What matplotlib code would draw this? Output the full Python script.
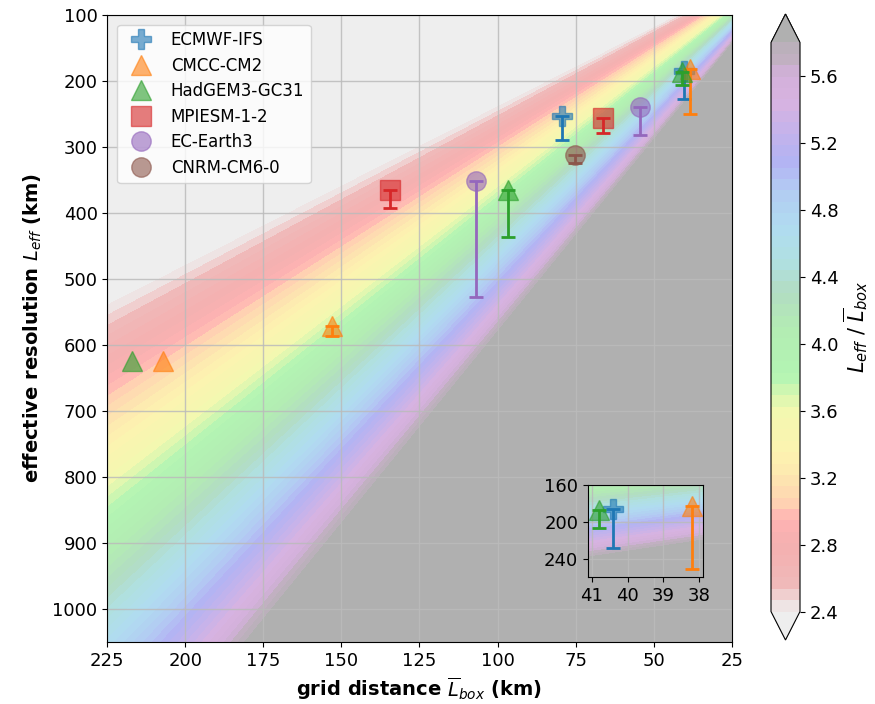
import numpy as np
import matplotlib
matplotlib.use("Agg")
import matplotlib.pyplot as plt
from matplotlib.colors import LinearSegmentedColormap

# grid distance (km) / effective resolution (km) / spread of the estimate (km)
ecmwf_lbox = [79.5, 40.4]
ecmwf_leff = [253, 186]
ecmwf_err = [37, 42]

cmcc_lbox = [207.3, 153.1, 38.2]
cmcc_leff = [625, 572, 183]
cmcc_err = [0, 15, 68]

hadgem_lbox = [217.2, 96.5, 40.8]
hadgem_leff = [625, 365, 187]
hadgem_err = [0, 71, 20]

mpi_lbox = [134.4, 66.2]
mpi_leff = [366, 257]
mpi_err = [27, 22]

ecearth_lbox = [107.0, 54.4]
ecearth_leff = [352, 240]
ecearth_err = [175, 42]

cnrm_lbox = [75.2]
cnrm_leff = [312]
cnrm_err = [12]

cbar_ticks = [2.4, 2.8, 3.2, 3.6, 4.0, 4.4, 4.8, 5.2, 5.6]

models = [
    ("ECMWF-IFS", "P", 14, "tab:blue", ecmwf_lbox, ecmwf_leff, ecmwf_err),
    ("CMCC-CM2", "^", 14, "tab:orange", cmcc_lbox, cmcc_leff, cmcc_err),
    ("HadGEM3-GC31", "^", 14, "tab:green", hadgem_lbox, hadgem_leff, hadgem_err),
    ("MPIESM-1-2", "s", 15, "tab:red", mpi_lbox, mpi_leff, mpi_err),
    ("EC-Earth3", "o", 14, "tab:purple", ecearth_lbox, ecearth_leff, ecearth_err),
    ("CNRM-CM6-0", "o", 14, "tab:brown", cnrm_lbox, cnrm_leff, cnrm_err),
]

# ratio colours (pale rainbow)
anchors = [
    (2.40, "#ececec"), (2.47, "#f0d8d8"), (2.55, "#f0b9b9"), (2.80, "#f4b0b0"),
    (2.95, "#ffb3b3"), (3.05, "#ffd4b2"), (3.20, "#fde6b0"), (3.35, "#fdf3b0"),
    (3.60, "#f2f8b0"), (3.70, "#d4f6b0"), (3.80, "#b3f5b3"), (4.10, "#b3ecb3"),
    (4.30, "#b2dcc2"), (4.50, "#b0e0e2"), (4.70, "#b0dcf0"), (4.95, "#b3c8f3"),
    (5.10, "#b3b3f3"), (5.30, "#c8b3ea"), (5.45, "#d8b3e0"), (5.62, "#d2b0da"),
    (5.70, "#c2b0c2"), (5.80, "#b8b0b8"),
]
lo, hi = anchors[0][0], anchors[-1][0]
cmap = LinearSegmentedColormap.from_list(
    "ratio", [((v - lo) / (hi - lo), c) for v, c in anchors])
cmap.set_under("#eeeeee")
cmap.set_over("#b0b0b0")
levels = np.linspace(2.4, 5.8, 51)


def draw_background(axis, xr, yr):
    xx, yy = np.meshgrid(np.linspace(*xr, 400), np.linspace(*yr, 400))
    return axis.contourf(xx, yy, yy / xx, levels=levels, cmap=cmap,
                         extend="both", antialiased=False)


def draw_models(axis, with_labels=True):
    for name, mk, size, col, lbox, leff, err in models:
        lbox, leff, err = map(np.asarray, (lbox, leff, err))
        axis.plot(lbox, leff, mk, ms=size, color=col, alpha=0.6,
                  mec=col, label=name if with_labels else None)
        has = err > 0
        axis.errorbar(lbox[has], leff[has],
                      yerr=[np.zeros(has.sum()), err[has]],
                      fmt="none", ecolor=col, elinewidth=2,
                      capsize=5, capthick=2)


fig = plt.figure(figsize=(8.75, 7.04), dpi=100)
ax = fig.add_axes([107.3 / 875, 61.6 / 704, 624.4 / 875, 627.9 / 704])

cf = draw_background(ax, (20, 230), (90, 1060))
draw_models(ax)

ax.set_xlim(225, 25)
ax.set_ylim(1050, 100)
ax.set_xticks(np.arange(225, 24, -25))
ax.set_yticks(np.arange(100, 1001, 100))
ax.grid(True, color="#bbbbbb", alpha=0.85, linewidth=1)
ax.tick_params(labelsize=13)
ax.set_xlabel(r"grid distance $\overline{L}_{box}$ (km)",
              fontsize=14, fontweight="bold")
ax.set_ylabel(r"effective resolution $L_{eff}$ (km)",
              fontsize=14, fontweight="bold", labelpad=6)
ax.legend(loc="upper left", fontsize=12, labelspacing=0.45,
          borderaxespad=0.6)

# zoom on the high resolution models
axins = fig.add_axes([588 / 875, 127 / 704, 115 / 875, 92 / 704])
draw_background(axins, (37, 42), (150, 270))
draw_models(axins, with_labels=False)
axins.set_xlim(41.1, 37.9)
axins.set_ylim(260, 160)
axins.set_xticks([41, 40, 39, 38])
axins.set_yticks([160, 200, 240])
axins.grid(True, color="#bbbbbb", alpha=0.85, linewidth=1)
axins.tick_params(labelsize=13)

# colorbar axes includes the extension triangles
cax = fig.add_axes([771 / 875, 64 / 704, 29 / 875, 626 / 704])
cb = fig.colorbar(cf, cax=cax, ticks=cbar_ticks, format="%.1f")
cb.ax.tick_params(labelsize=13)
cb.set_label(r"$L_{eff}$ / $\overline{L}_{box}$", fontsize=15, labelpad=2)

fig.savefig("out.png", dpi=100)
